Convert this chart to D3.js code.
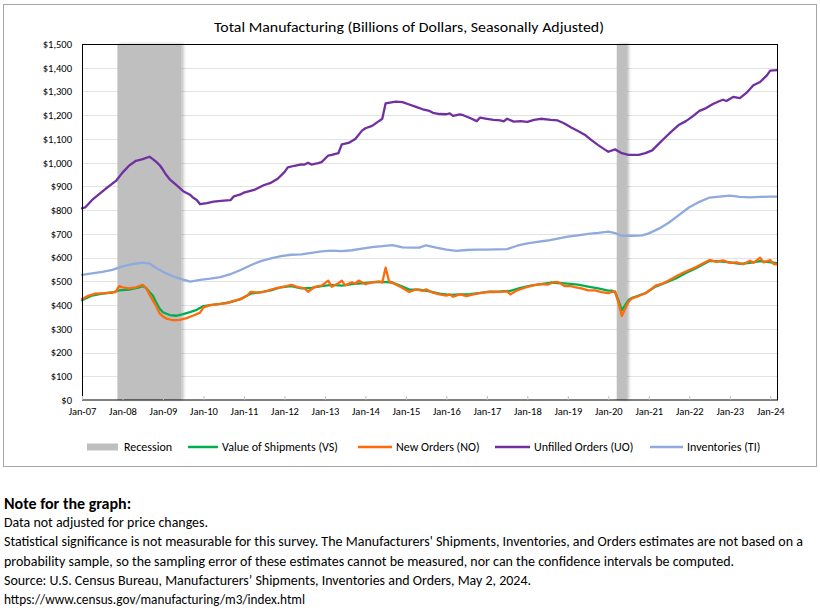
<!DOCTYPE html>
<html>
<head>
<meta charset="utf-8">
<script src="https://cdn.jsdelivr.net/npm/d3@7"></script>
<style>
  html, body { margin: 0; padding: 0; background: #fff; }
  svg { display: block; }
  text { font-family: Carlito, Calibri, "Liberation Sans", Arial, sans-serif; fill: #000; }
</style>
</head>
<body>
<svg id="chart" width="820" height="608"></svg>
<script>
// ---------------- DATA ----------------
const chartTitle = "Total Manufacturing (Billions of Dollars, Seasonally Adjusted)";
const firstMonth = "2007-01";
const lastMonth = "2024-03";
const yTickValues = [0, 100, 200, 300, 400, 500, 600, 700, 800, 900, 1000, 1100, 1200, 1300, 1400, 1500];
const xTickMonths = ["2007-01","2008-01","2009-01","2010-01","2011-01","2012-01","2013-01","2014-01","2015-01",
  "2016-01","2017-01","2018-01","2019-01","2020-01","2021-01","2022-01","2023-01","2024-01"];
const xTickLabels = ["Jan-07","Jan-08","Jan-09","Jan-10","Jan-11","Jan-12","Jan-13","Jan-14","Jan-15",
  "Jan-16","Jan-17","Jan-18","Jan-19","Jan-20","Jan-21","Jan-22","Jan-23","Jan-24"];
const recessionStarts = ["2007-12", "2020-04"];
const recessionEnds   = ["2009-06", "2020-06"];
const legendLabels = ["Recession", "Value of Shipments (VS)", "New Orders (NO)", "Unfilled Orders (UO)", "Inventories (TI)"];

const shipments = [
  ["2007-01",420],["2007-04",440],["2007-07",448],["2007-10",453],["2007-12",462],["2008-03",465],
  ["2008-06",475],["2008-07",480],["2008-08",472],["2008-09",455],["2008-10",440],["2008-11",410],
  ["2008-12",385],["2009-01",370],["2009-03",358],["2009-05",355],["2009-07",362],["2009-09",370],
  ["2009-11",380],["2010-01",396],["2010-03",400],["2010-06",405],["2010-09",412],["2010-12",425],
  ["2011-03",448],["2011-06",455],["2011-09",462],["2011-12",475],["2012-03",480],["2012-06",470],
  ["2012-09",472],["2012-12",480],["2013-03",485],["2013-06",482],["2013-09",488],["2013-12",492],
  ["2014-03",496],["2014-06",498],["2014-09",495],["2014-12",478],["2015-02",465],["2015-05",465],
  ["2015-08",458],["2015-11",448],["2016-02",443],["2016-05",445],["2016-08",446],["2016-11",451],
  ["2017-02",457],["2017-05",458],["2017-08",460],["2017-11",472],["2018-02",482],["2018-05",488],
  ["2018-08",495],["2018-10",493],["2019-01",490],["2019-04",486],["2019-07",478],["2019-10",470],
  ["2020-01",461],["2020-02",461],["2020-03",455],["2020-04",420],["2020-05",379],["2020-06",400],
  ["2020-07",421],["2020-08",430],["2020-09",435],["2020-12",450],["2021-03",478],["2021-06",494],
  ["2021-09",512],["2021-12",535],["2022-03",555],["2022-06",578],["2022-07",586],["2022-10",584],
  ["2023-01",580],["2023-04",574],["2023-07",578],["2023-10",585],["2023-12",582],["2024-03",577]
];

const newOrders = [
  ["2007-01",425],["2007-03",440],["2007-05",448],["2007-08",450],["2007-11",455],["2007-12",480],
  ["2008-01",475],["2008-03",470],["2008-05",475],["2008-07",485],["2008-08",472],["2008-09",445],
  ["2008-10",420],["2008-11",395],["2008-12",365],["2009-01",352],["2009-02",343],["2009-04",336],
  ["2009-06",338],["2009-08",345],["2009-10",356],["2009-12",368],["2010-01",390],["2010-03",400],
  ["2010-06",405],["2010-08",408],["2010-10",418],["2010-12",425],["2011-02",440],["2011-03",456],
  ["2011-05",452],["2011-07",456],["2011-09",465],["2011-11",472],["2012-01",478],["2012-03",485],
  ["2012-05",476],["2012-07",470],["2012-08",456],["2012-10",477],["2012-12",482],["2013-02",503],
  ["2013-03",477],["2013-05",492],["2013-06",503],["2013-07",483],["2013-09",496],["2013-10",490],
  ["2013-11",503],["2014-01",488],["2014-03",496],["2014-05",500],["2014-06",495],["2014-07",558],
  ["2014-08",500],["2014-10",487],["2014-12",472],["2015-02",455],["2015-04",466],["2015-06",460],
  ["2015-07",466],["2015-09",452],["2015-11",445],["2016-01",440],["2016-02",445],["2016-03",435],
  ["2016-05",445],["2016-07",438],["2016-09",445],["2016-11",450],["2017-01",455],["2017-03",455],
  ["2017-05",456],["2017-07",458],["2017-08",445],["2017-10",462],["2017-12",472],["2018-03",484],
  ["2018-05",488],["2018-07",486],["2018-09",497],["2018-10",497],["2018-11",490],["2018-12",480],
  ["2019-02",480],["2019-03",476],["2019-05",470],["2019-07",462],["2019-09",462],["2019-11",455],
  ["2020-01",450],["2020-02",455],["2020-03",458],["2020-04",410],["2020-05",354],["2020-06",385],
  ["2020-07",414],["2020-08",428],["2020-10",438],["2020-12",450],["2021-02",470],["2021-03",482],
  ["2021-05",490],["2021-07",505],["2021-09",520],["2021-11",535],["2022-01",548],["2022-03",560],
  ["2022-05",575],["2022-07",590],["2022-09",582],["2022-11",588],["2023-01",578],["2023-03",580],
  ["2023-05",572],["2023-07",587],["2023-08",578],["2023-10",600],["2023-11",580],["2024-01",590],
  ["2024-02",573],["2024-03",572]
];

const unfilledOrders = [
  ["2007-01",808],["2007-02",812],["2007-04",843],["2007-08",890],["2007-10",912],["2007-11",922],
  ["2008-01",958],["2008-03",988],["2008-05",1008],["2008-07",1015],["2008-09",1025],["2008-10",1015],
  ["2008-11",1003],["2008-12",990],["2009-01",970],["2009-02",948],["2009-03",930],["2009-05",905],
  ["2009-07",880],["2009-09",865],["2009-10",852],["2009-11",843],["2009-12",825],["2010-02",830],
  ["2010-04",836],["2010-07",840],["2010-09",842],["2010-10",858],["2010-12",866],["2011-01",874],
  ["2011-04",885],["2011-07",906],["2011-09",915],["2011-11",932],["2012-01",960],["2012-02",980],
  ["2012-04",987],["2012-06",993],["2012-07",992],["2012-08",1000],["2012-09",992],["2012-11",998],
  ["2012-12",1002],["2013-02",1030],["2013-03",1033],["2013-05",1040],["2013-06",1077],["2013-08",1083],
  ["2013-10",1100],["2013-12",1135],["2014-01",1145],["2014-03",1155],["2014-05",1175],["2014-06",1185],
  ["2014-07",1250],["2014-10",1257],["2014-12",1255],["2015-02",1245],["2015-04",1235],["2015-06",1225],
  ["2015-08",1218],["2015-09",1210],["2015-11",1205],["2016-01",1204],["2016-02",1208],["2016-03",1197],
  ["2016-05",1203],["2016-06",1200],["2016-08",1188],["2016-10",1175],["2016-11",1190],["2017-01",1185],
  ["2017-03",1180],["2017-05",1178],["2017-06",1174],["2017-07",1185],["2017-09",1173],["2017-11",1175],
  ["2018-01",1172],["2018-03",1180],["2018-05",1185],["2018-08",1180],["2018-10",1178],["2018-12",1165],
  ["2019-02",1148],["2019-04",1133],["2019-06",1118],["2019-08",1095],["2019-10",1074],["2019-12",1055],
  ["2020-01",1046],["2020-03",1056],["2020-05",1040],["2020-07",1033],["2020-10",1033],["2020-12",1040],
  ["2021-02",1052],["2021-04",1080],["2021-06",1108],["2021-08",1135],["2021-10",1160],["2021-12",1175],
  ["2022-02",1195],["2022-04",1218],["2022-06",1230],["2022-08",1247],["2022-10",1260],["2022-11",1265],
  ["2022-12",1260],["2023-02",1277],["2023-04",1272],["2023-06",1295],["2023-08",1326],["2023-10",1340],
  ["2023-12",1368],["2024-01",1388],["2024-03",1390]
];

const inventories = [
  ["2007-01",527],["2007-07",540],["2007-10",548],["2008-01",563],["2008-04",573],["2008-07",579],
  ["2008-09",575],["2008-11",556],["2009-01",540],["2009-04",521],["2009-07",507],["2009-09",499],
  ["2009-12",506],["2010-03",511],["2010-06",518],["2010-09",530],["2010-12",548],["2011-03",568],
  ["2011-06",585],["2011-09",597],["2011-12",606],["2012-03",612],["2012-06",614],["2012-09",620],
  ["2012-12",626],["2013-03",629],["2013-06",627],["2013-09",631],["2013-12",638],["2014-03",644],
  ["2014-06",648],["2014-09",653],["2014-12",643],["2015-03",642],["2015-05",642],["2015-07",652],
  ["2015-10",642],["2016-01",634],["2016-04",628],["2016-07",632],["2016-10",634],["2017-01",634],
  ["2017-04",635],["2017-07",636],["2017-10",650],["2018-01",660],["2018-04",666],["2018-07",672],
  ["2018-10",680],["2019-01",688],["2019-04",694],["2019-07",700],["2019-10",704],["2020-01",709],
  ["2020-03",703],["2020-05",692],["2020-08",692],["2020-11",694],["2021-01",702],["2021-04",722],
  ["2021-07",748],["2021-10",780],["2022-01",812],["2022-04",835],["2022-07",853],["2022-10",857],
  ["2023-01",861],["2023-04",856],["2023-07",854],["2023-10",856],["2024-01",857],["2024-03",857]
];

const noteHeading = "Note for the graph:";
const noteLines = [
  "Data not adjusted for price changes.",
  "Statistical significance is not measurable for this survey.  The Manufacturers' Shipments, Inventories, and Orders estimates are not based on a",
  "probability sample, so the sampling error of these estimates cannot be measured, nor can the confidence intervals be computed.",
  "Source: U.S. Census Bureau, Manufacturers\u2019 Shipments, Inventories and Orders, May 2, 2024.",
  "https://www.census.gov/manufacturing/m3/index.html"
];

// ---------------- STYLE / LAYOUT ----------------
const colors = { rec: "#bfbfbf", vs: "#00b050", no: "#ff6a0d", uo: "#7030a0", ti: "#8faadc" };
const plot = { left: 82, right: 777, top: 44, bottom: 400 };
const FONT = 'Carlito, Calibri, "Liberation Sans", Arial, sans-serif';

const monthIndex = s => { const [y, m] = s.split("-").map(Number); return (y - 2007) * 12 + (m - 1); };

const svg = d3.select("#chart");
const x = d3.scaleLinear().domain([monthIndex(firstMonth), monthIndex(lastMonth)]).range([plot.left, plot.right]);
const y = d3.scaleLinear().domain([0, 1500]).range([plot.bottom, plot.top]);
const monthStep = x(1) - x(0);

// outer chart frame
svg.append("rect").attr("x", 3.5).attr("y", 4.5).attr("width", 813).attr("height", 462)
  .attr("fill", "#fff").attr("stroke", "#a6a6a6").attr("stroke-width", 1);

// title
svg.append("text").attr("x", 409).attr("y", 32).attr("text-anchor", "middle")
  .attr("font-size", 14).attr("textLength", 390).attr("lengthAdjust", "spacingAndGlyphs")
  .text(chartTitle);

// gridlines
svg.append("g").selectAll("line").data(yTickValues.filter(v => v > 0 && v < 1500)).join("line")
  .attr("x1", plot.left).attr("x2", plot.right)
  .attr("y1", d => Math.round(y(d)) + 0.5).attr("y2", d => Math.round(y(d)) + 0.5)
  .attr("stroke", "#e3e3e3").attr("stroke-width", 1);

// recession bars with soft shadow
const defs = svg.append("defs");
const f = defs.append("filter").attr("id", "shadow").attr("x", "-50%").attr("y", "-5%").attr("width", "200%").attr("height", "110%");
f.append("feGaussianBlur").attr("in", "SourceAlpha").attr("stdDeviation", 1.6).attr("result", "b");
f.append("feOffset").attr("in", "b").attr("dx", 2).attr("dy", 0).attr("result", "o");
f.append("feComponentTransfer").attr("in", "o").attr("result", "oa")
  .append("feFuncA").attr("type", "linear").attr("slope", 0.25);
const fm = f.append("feMerge");
fm.append("feMergeNode").attr("in", "oa");
fm.append("feMergeNode").attr("in", "SourceGraphic");

svg.append("g").selectAll("rect").data(recessionStarts.map((s, i) => [s, recessionEnds[i]])).join("rect")
  .attr("x", d => x(monthIndex(d[0])) - monthStep / 2)
  .attr("width", d => x(monthIndex(d[1])) - x(monthIndex(d[0])) + monthStep)
  .attr("y", plot.top).attr("height", plot.bottom - plot.top)
  .attr("fill", colors.rec).attr("filter", "url(#shadow)");

// series lines
const line = d3.line().x(d => x(monthIndex(d[0]))).y(d => y(d[1])).curve(d3.curveLinear);
const series = [
  { data: inventories, color: colors.ti },
  { data: unfilledOrders, color: colors.uo },
  { data: shipments, color: colors.vs },
  { data: newOrders, color: colors.no }
];
svg.append("g").selectAll("path").data(series).join("path")
  .attr("d", d => line(d.data)).attr("fill", "none").attr("stroke", d => d.color)
  .attr("stroke-width", 2.3).attr("stroke-linejoin", "round").attr("stroke-linecap", "round");

// plot frame
svg.append("rect").attr("x", plot.left + 0.5).attr("y", plot.top + 0.5)
  .attr("width", plot.right - plot.left).attr("height", plot.bottom - plot.top - 0.5)
  .attr("fill", "none").attr("stroke", "#000").attr("stroke-width", 1);

// y axis
const yAxis = svg.append("g").attr("transform", `translate(${plot.left},0)`)
  .call(d3.axisLeft(y).tickValues(yTickValues).tickFormat(d3.format("$,")).tickSize(0).tickPadding(10));
yAxis.select(".domain").remove();
yAxis.selectAll("text").attr("font-size", 10.5).attr("font-family", FONT);

// x axis
const xAxis = svg.append("g").attr("transform", `translate(0,${plot.bottom})`)
  .call(d3.axisBottom(x).tickValues(xTickMonths.map(monthIndex)).tickFormat((d, i) => xTickLabels[i]).tickSize(0).tickPadding(8));
xAxis.select(".domain").remove();
xAxis.selectAll("line").attr("y2", -4).attr("stroke", "#bfbfbf");
xAxis.selectAll("text").attr("font-size", 10.5).attr("font-family", FONT);

// legend
const legendY = 447;
const legendItems = [
  { type: "rect", x0: 87, x1: 118, tx: 124, color: colors.rec },
  { type: "line", x0: 188, x1: 218, tx: 222, color: colors.vs },
  { type: "line", x0: 358, x1: 392, tx: 396, color: colors.no },
  { type: "line", x0: 495, x1: 530, tx: 534, color: colors.uo },
  { type: "line", x0: 650, x1: 683, tx: 687, color: colors.ti }
];
const lg = svg.append("g");
legendItems.forEach((it, i) => {
  if (it.type === "rect") {
    lg.append("rect").attr("x", it.x0).attr("y", legendY - 3.5).attr("width", it.x1 - it.x0).attr("height", 7).attr("fill", it.color);
  } else {
    lg.append("line").attr("x1", it.x0).attr("x2", it.x1).attr("y1", legendY).attr("y2", legendY)
      .attr("stroke", it.color).attr("stroke-width", 2.5);
  }
  lg.append("text").attr("x", it.tx).attr("y", legendY + 4).attr("font-size", 12).text(legendLabels[i]);
});

// notes
svg.append("text").attr("x", 4).attr("y", 509).attr("font-size", 16).attr("font-weight", "bold")
  .attr("font-family", '"Liberation Sans", Arial, sans-serif').text(noteHeading);
const noteWidths = [204, 799, 730, 527, 301];
svg.append("g").selectAll("text").data(noteLines).join("text")
  .attr("x", 4).attr("y", (d, i) => 527 + i * 19.3).attr("font-size", 13.5)
  .attr("textLength", (d, i) => noteWidths[i]).attr("lengthAdjust", "spacingAndGlyphs")
  .text(d => d);
</script>
</body>
</html>
